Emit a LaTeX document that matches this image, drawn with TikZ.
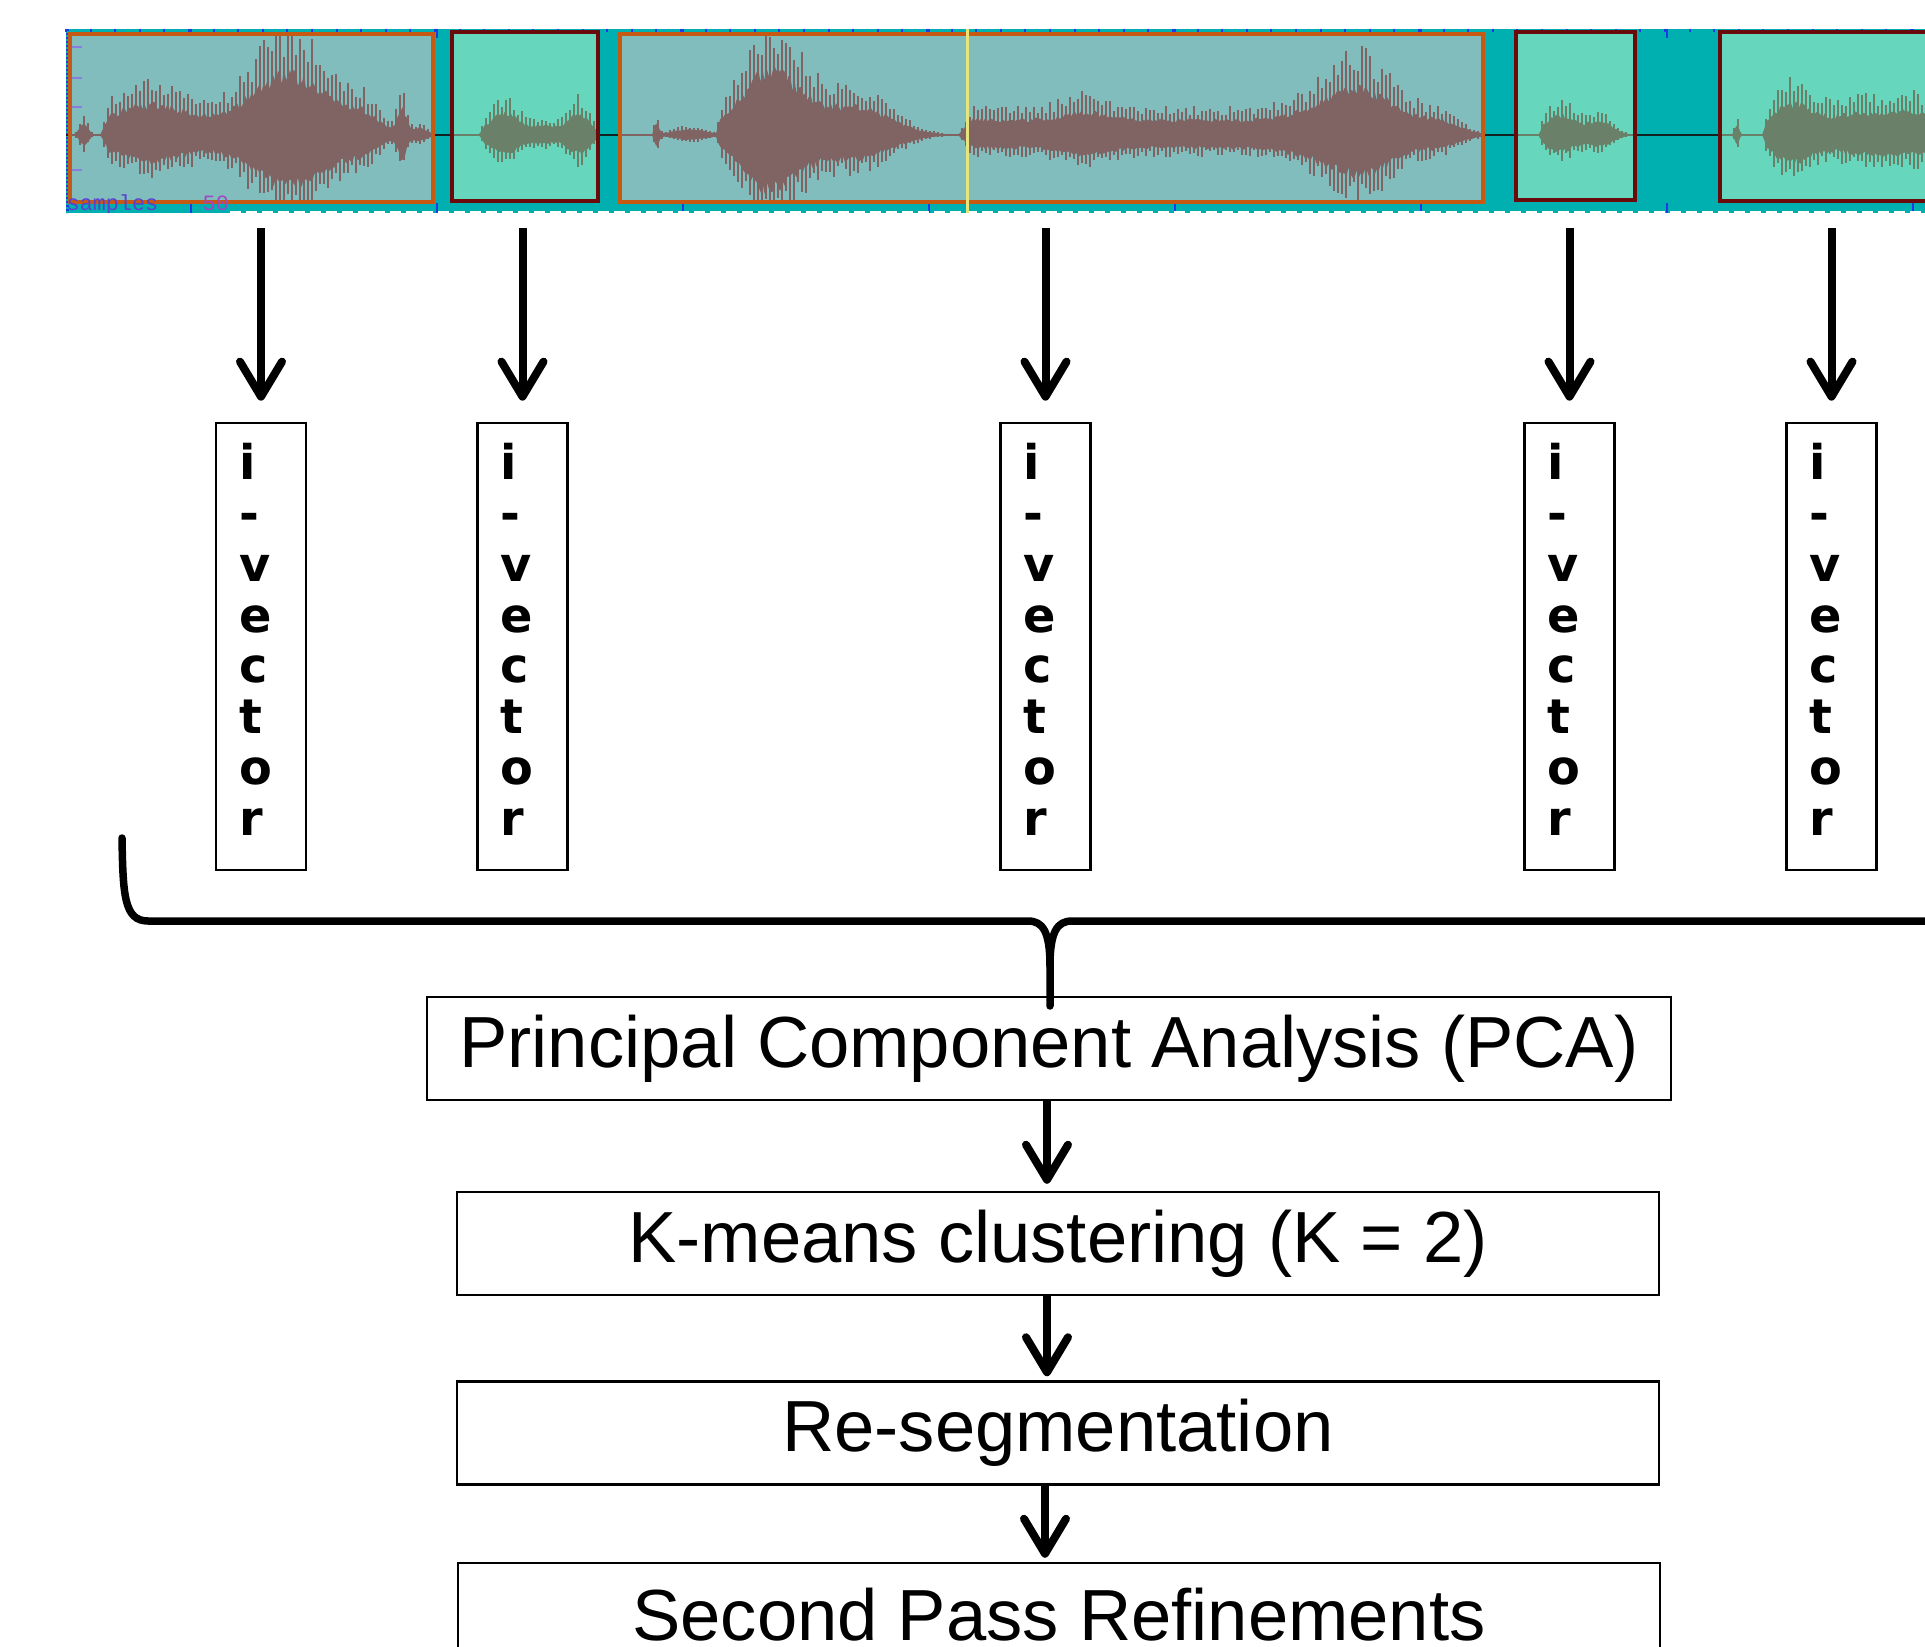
\documentclass[tikz,border=0pt]{standalone}
\usepackage{fontspec}
\setmainfont{Liberation Sans}
\newfontfamily\ivfont{DejaVu Sans}
\newfontfamily\scopefont{Liberation Mono}
\usetikzlibrary{arrows.meta}

\definecolor{stripteal}{HTML}{00B0B0}
\definecolor{segfillA}{HTML}{80BDBC}
\definecolor{segedgeA}{HTML}{C65A12}
\definecolor{segfillB}{HTML}{66D7BD}
\definecolor{segedgeB}{HTML}{6B0A0A}
\definecolor{waveA}{HTML}{806464}
\definecolor{waveB}{HTML}{6A8068}
\definecolor{silence}{HTML}{102222}
\definecolor{tickblue}{HTML}{1E3CE6}
\definecolor{axislilac}{HTML}{8A7CE0}
\definecolor{labblue}{HTML}{5A3FD0}
\definecolor{labmag}{HTML}{A044C8}
\definecolor{cursor}{HTML}{E6E47A}

\tikzset{
  stage/.style={draw, line width=0.25mm, minimum width=120.2mm, minimum height=10.3mm,
    inner sep=0pt, font=\fontsize{20.6pt}{24pt}\selectfont},
  ivbox/.style={draw, line width=0.27mm, text width=4.4mm, inner xsep=2.3mm, inner ysep=0pt,
    minimum height=44.7mm, align=left, text depth=37.1mm,
    font=\ivfont\bfseries\fontsize{13.6pt}{14.5pt}\selectfont},
  flow/.style={line width=0.8mm, -{Straight Barb[length=3.5mm,width=4.2mm,round]}},
  brace/.style={line width=0.75mm, line cap=round, line join=round},
}

% one labelled speech segment of the waveform strip:
% #1,#2 top-left corner, #3,#4 bottom-right corner, #5 fill, #6 edge, #7 wave colour, #8 envelope
\newcommand\speechseg[8]{%
  \fill[#5] (#1,#2) rectangle (#3,#4);
  \begin{scope}
    \clip (#1,#2) rectangle (#3,#4);
    \draw[#7, line width=0.2mm] (#1,135) -- (#3,135);
    \pgfmathtruncatemacro\nsm{(#3-#1)/2}%
    \fill[#7] plot[domain=#1:#3, samples=\nsm] (\x,{135-0.6*#8(\x)*(0.75+0.25*rnd)})
      -- plot[domain=#3:#1, samples=\nsm] (\x,{135+0.52*#8(\x)*(0.75+0.25*rnd)}) -- cycle;
    \pgfmathtruncatemacro\nsp{(#3-#1-4)/4}%
    \foreach \k in {0,...,\nsp}{%
      \pgfmathsetmacro\xx{#1+2+4*\k}%
      \pgfmathsetmacro\up{#8(\xx)*(0.7+0.35*rnd)}%
      \pgfmathsetmacro\dn{0.8*#8(\xx)*(0.65+0.35*rnd)}%
      \draw[#7, line width=0.18mm] (\xx,135-\up) -- (\xx,135+\dn);
    }
  \end{scope}
  \draw[#6, line width=0.35mm] (#1,#2) rectangle (#3,#4);
}

\begin{document}
\begin{tikzpicture}[x=0.1mm, y=-0.1mm,
  declare function={
    gb(\X,\C,\W)=exp(-1*min(abs((\X-\C)/\W),4)*min(abs((\X-\C)/\W),4));
    rp(\X,\A,\K)=min(max((\X-\A)/\K,0),1);
    envA(\X)=22*gb(\X,84,6)+rp(\X,100,8)*(55*gb(\X,150,60)+110*gb(\X,290,58)+25*gb(\X,365,22))
             +48*gb(\X,402,6)+12*gb(\X,420,10);
    envB(\X)=rp(\X,478,6)*(40*gb(\X,505,22)+16*gb(\X,545,15)+40*gb(\X,578,16));
    envC(\X)=rp(\X,652,3)*(22*gb(\X,656,4)+10*gb(\X,690,25))
             +rp(\X,716,4)*(115*gb(\X,770,42)+50*gb(\X,855,50))
             +28*rp(\X,958,15)*(1-rp(\X,1290,60))+14*gb(\X,1085,30)
             +85*gb(\X,1360,50)+22*gb(\X,1440,30);
    envD(\X)=rp(\X,1538,5)*(36*gb(\X,1560,22)+24*gb(\X,1600,18));
    envE(\X)=20*gb(\X,1737,3)+rp(\X,1762,5)*(52*gb(\X,1790,30)+38*gb(\X,1860,50)+34*gb(\X,1925,40));
  }]
\pgfmathsetseed{7}
\useasboundingbox (0,0) rectangle (1925,1647);
\fill[white] (0,0) rectangle (1925,1647);

% ---------- waveform strip ----------
\fill[stripteal] (66,29) rectangle (1925,213);
\draw[tickblue, line width=0.3mm, dash pattern=on 0.2mm off 0.2mm] (67,29) -- (67,213);
\foreach \t in {0,...,75}
  \draw[tickblue, line width=0.2mm] ({66+24.6*\t},29) -- ++(0,3);
\foreach \t in {0,...,7}{
  \draw[tickblue, line width=0.25mm] ({191+246*\t},29) -- ++(0,9);
  \draw[tickblue, line width=0.25mm] ({191+246*\t},203) -- ++(0,10);
}
\draw[white, line width=0.15mm, dash pattern=on 1.1mm off 0.5mm] (230,212.2) -- (1925,212.2);
\draw[silence, line width=0.25mm] (66,135) -- (1925,135);

\speechseg{70}{34}{433}{202}{segfillA}{segedgeA}{waveA}{envA}
\speechseg{452}{32}{598}{201}{segfillB}{segedgeB}{waveB}{envB}
\speechseg{620}{34}{1483}{202}{segfillA}{segedgeA}{waveA}{envC}
\speechseg{1516}{32}{1635}{200}{segfillB}{segedgeB}{waveB}{envD}
\speechseg{1720}{32}{1940}{201}{segfillB}{segedgeB}{waveB}{envE}

% amplitude axis marks and play cursor
\foreach \yy in {47,78,107,170}
  \draw[axislilac, line width=0.25mm] (72,\yy) -- ++(10,0);
\draw[cursor, line width=0.3mm] (967,29) -- (967,213);

\begin{scope}
  \clip (66,29) rectangle (1925,213);
  \node[anchor=base west, inner sep=0pt, text=labblue,
        font=\scopefont\fontsize{6.2pt}{6.5pt}\selectfont] (smp) at (66,211) {samples};
  \node[anchor=base west, inner sep=0pt, text=labmag,
        font=\scopefont\fontsize{6.2pt}{6.5pt}\selectfont] (fifty) at (202,211) {50};
\end{scope}

% ---------- i-vectors ----------
\node[ivbox] (iv1) at (261,646.5)    {i\\-\\v\\e\\c\\t\\o\\r};
\node[ivbox] (iv2) at (522.5,646.5)  {i\\-\\v\\e\\c\\t\\o\\r};
\node[ivbox] (iv3) at (1045.5,646.5) {i\\-\\v\\e\\c\\t\\o\\r};
\node[ivbox] (iv4) at (1569.5,646.5) {i\\-\\v\\e\\c\\t\\o\\r};
\node[ivbox] (iv5) at (1831.5,646.5) {i\\-\\v\\e\\c\\t\\o\\r};

\coordinate (arrowtop) at (0,228);
\foreach \n in {1,...,5}
  \draw[flow, shorten >=2.1mm] (iv\n.north |- arrowtop) -- (iv\n.north);

% ---------- processing chain ----------
\node[stage, minimum width=124.4mm] (pca) at (1049,1048.5) {Principal Component Analysis (PCA)};
\node[stage] (km)    at (1058,1243.5) {K-means clustering (K = 2)};
\node[stage] (reseg) at (1058,1433)   {Re-segmentation};
\node[stage] (spr)   at (1059,1614.5) {Second Pass Refinements};

\coordinate (flowx) at (1047,0);
\draw[flow, shorten >=0.7mm] (pca.south -| flowx) -- (km.north -| flowx);
\draw[flow, shorten >=0.4mm] (km.south -| flowx) -- (reseg.north -| flowx);
\draw[flow, shorten >=0.4mm] (reseg.south -| 1045,0) -- (spr.north -| 1045,0);

% ---------- gathering brace ----------
\coordinate (braceL) at (122,838);
\coordinate (braceR) at (1945,921);
\coordinate (bracemid) at (1050,966);
\coordinate (bracetip) at (1050,1006);
\draw[brace] (braceL) .. controls (123,895) and (124,921) .. (148,921) -- (1028,921)
  .. controls (1043,921) and (1050,932) .. (bracemid) -- (bracetip);
\draw[brace] (bracemid) .. controls (1050,932) and (1057,921) .. (1072,921) -- (braceR);
\end{tikzpicture}
\end{document}
